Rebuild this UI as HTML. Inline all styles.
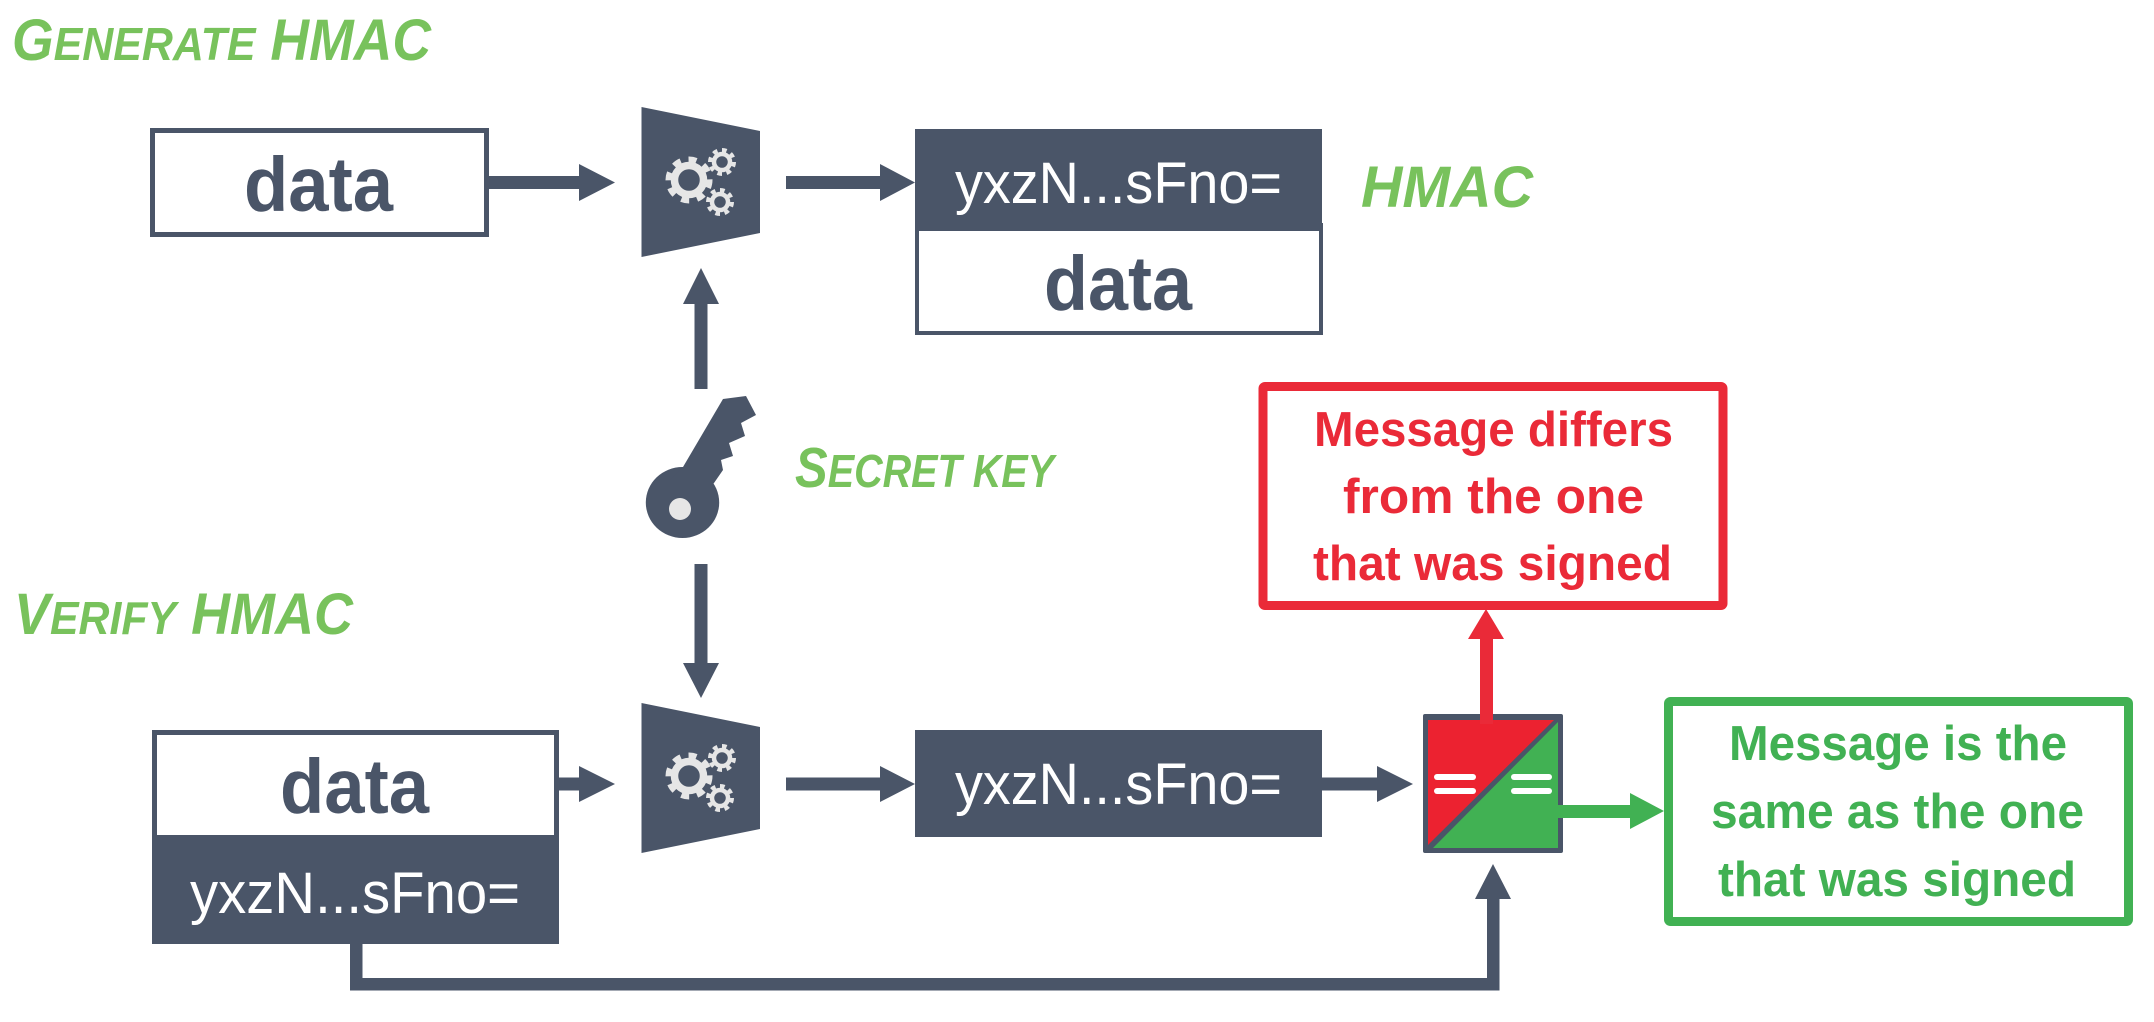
<!DOCTYPE html>
<html><head><meta charset="utf-8">
<style>
html,body{margin:0;padding:0;background:#fff;width:2154px;height:1022px;overflow:hidden}
svg{display:block}
text{font-family:"Liberation Sans",sans-serif}
.t{fill:#78c25c;font-weight:bold;font-style:italic}
.u{text-transform:uppercase}
.d{fill:#4a5568;font-weight:bold;font-size:77px}
.h{fill:#fff;font-size:58px}
.r{fill:#ea2a38;font-weight:bold;font-size:49px}
.g{fill:#41b153;font-weight:bold;font-size:49px}
</style></head><body>
<svg width="2154" height="1022" viewBox="0 0 2154 1022" xmlns="http://www.w3.org/2000/svg">
<defs>
<g id="gears">
  <circle cx="689" cy="180" r="14.5" fill="none" stroke="#e6e6e6" stroke-width="7.5"/>
  <circle cx="689" cy="180" r="20.5" fill="none" stroke="#e6e6e6" stroke-width="6" pathLength="16" stroke-dasharray="1 1"/>
  <circle cx="722" cy="162" r="8" fill="none" stroke="#e6e6e6" stroke-width="4.5"/>
  <circle cx="722" cy="162" r="12" fill="none" stroke="#e6e6e6" stroke-width="4" pathLength="16" stroke-dasharray="1 1"/>
  <circle cx="720" cy="202" r="8" fill="none" stroke="#e6e6e6" stroke-width="4.5"/>
  <circle cx="720" cy="202" r="12" fill="none" stroke="#e6e6e6" stroke-width="4" pathLength="16" stroke-dasharray="1 1"/>
</g>
</defs>

<!-- titles -->
<text class="t" x="12" y="60" textLength="419" lengthAdjust="spacingAndGlyphs"><tspan font-size="58">G</tspan><tspan class="u" font-size="46.5">enerate</tspan><tspan font-size="58"> HMAC</tspan></text>
<text class="t" x="795" y="487" textLength="259" lengthAdjust="spacingAndGlyphs"><tspan font-size="57">S</tspan><tspan class="u" font-size="46">ecret key</tspan></text>
<text class="t" x="14" y="634" textLength="339" lengthAdjust="spacingAndGlyphs"><tspan font-size="58">V</tspan><tspan class="u" font-size="46">erify</tspan><tspan font-size="58"> HMAC</tspan></text>
<text class="t" x="1361" y="207" font-size="58" textLength="172" lengthAdjust="spacingAndGlyphs">HMAC</text>

<!-- top row -->
<rect x="152.5" y="130.5" width="334" height="104" fill="#fff" stroke="#4a5568" stroke-width="5"/>
<text class="d" x="244" y="211" textLength="149" lengthAdjust="spacingAndGlyphs">data</text>
<polygon points="487,176 579,176 579,164 615,182.5 579,201 579,189 487,189" fill="#4a5568"/>
<polygon points="641.5,107 760,131 760,233 641.5,257" fill="#4a5568"/>
<use href="#gears"/>
<polygon points="786,176 880,176 880,164 915,182.5 880,201 880,189 786,189" fill="#4a5568"/>

<rect x="917" y="225" width="404" height="108" fill="#fff" stroke="#4a5568" stroke-width="4"/>
<rect x="915" y="129" width="407" height="102" fill="#4a5568"/>
<text class="h" x="955" y="203" textLength="327" lengthAdjust="spacingAndGlyphs">yxzN...sFno=</text>
<text class="d" x="1044" y="310" textLength="148" lengthAdjust="spacingAndGlyphs">data</text>

<!-- key arrows -->
<polygon points="694.5,389 694.5,304 683,304 701,268 719,304 707.5,304 707.5,389" fill="#4a5568"/>
<polygon points="694.5,564 694.5,663 683,663 701,698 719,663 707.5,663 707.5,564" fill="#4a5568"/>

<!-- key -->
<ellipse cx="682.5" cy="502.5" rx="36.7" ry="35.5" fill="#4a5568"/>
<polygon points="723,399 746,396 756,415 741,423 745,436 729,443 733,456 721,460 723,470 714,483 700,500 670,480 683,467" fill="#4a5568"/>
<circle cx="680" cy="509" r="11" fill="#e6e6e6"/>

<!-- bottom row -->
<rect x="154.5" y="732.5" width="402" height="110" fill="#fff" stroke="#4a5568" stroke-width="5"/>
<text class="d" x="280" y="813" textLength="149" lengthAdjust="spacingAndGlyphs">data</text>
<rect x="152" y="835" width="407" height="109" fill="#4a5568"/>
<text class="h" x="190" y="913" textLength="330" lengthAdjust="spacingAndGlyphs">yxzN...sFno=</text>
<polygon points="559,777.5 579,777.5 579,766 615,784 579,802 579,790.5 559,790.5" fill="#4a5568"/>
<polygon points="641.5,703 760,727 760,829 641.5,853" fill="#4a5568"/>
<use href="#gears" y="596"/>
<polygon points="786,777.5 880,777.5 880,766 915,784 880,802 880,790.5 786,790.5" fill="#4a5568"/>
<rect x="915" y="730" width="407" height="107" fill="#4a5568"/>
<text class="h" x="955" y="804" textLength="327" lengthAdjust="spacingAndGlyphs">yxzN...sFno=</text>
<polygon points="1322,777.5 1377,777.5 1377,766 1413,784 1377,802 1377,790.5 1322,790.5" fill="#4a5568"/>

<!-- comparator -->
<rect x="1423" y="714" width="140" height="139" rx="2" fill="#4a5568"/>
<polygon points="1428,720 1554,720 1428,845" fill="#ec2230"/>
<polygon points="1558,722 1558,848 1433,848" fill="#41b153"/>
<rect x="1434" y="774" width="42" height="6" rx="3" fill="#fff"/>
<rect x="1434" y="788" width="42" height="6" rx="3" fill="#fff"/>
<rect x="1511" y="774" width="41" height="6" rx="3" fill="#fff"/>
<rect x="1511" y="788" width="41" height="6" rx="3" fill="#fff"/>

<!-- red arrow -->
<polygon points="1480,724 1480,639 1468,639 1486,609 1504,639 1493,639 1493,724" fill="#ea2a38"/>
<!-- green arrow -->
<polygon points="1538,805 1630,805 1630,793 1664,811 1630,829 1630,818 1538,818" fill="#41b153"/>
<!-- return connector -->
<polygon points="350,944 362.5,944 362.5,978 1487,978 1487,899 1475,899 1493,864 1511,899 1499.5,899 1499.5,990.5 350,990.5" fill="#4a5568"/>

<!-- result boxes -->
<rect x="1263" y="386.5" width="460" height="219" rx="2" fill="#fff" stroke="#ea2a38" stroke-width="9"/>
<text class="r" x="1314" y="446" textLength="359" lengthAdjust="spacingAndGlyphs">Message differs</text>
<text class="r" x="1343" y="513" textLength="301" lengthAdjust="spacingAndGlyphs">from the one</text>
<text class="r" x="1313" y="580" textLength="359" lengthAdjust="spacingAndGlyphs">that was signed</text>

<rect x="1668.5" y="701.5" width="460" height="220" rx="2" fill="#fff" stroke="#41b153" stroke-width="9"/>
<text class="g" x="1729" y="760" textLength="338" lengthAdjust="spacingAndGlyphs">Message is the</text>
<text class="g" x="1711" y="828" textLength="373" lengthAdjust="spacingAndGlyphs">same as the one</text>
<text class="g" x="1718" y="896" textLength="358" lengthAdjust="spacingAndGlyphs">that was signed</text>
</svg>
</body></html>
